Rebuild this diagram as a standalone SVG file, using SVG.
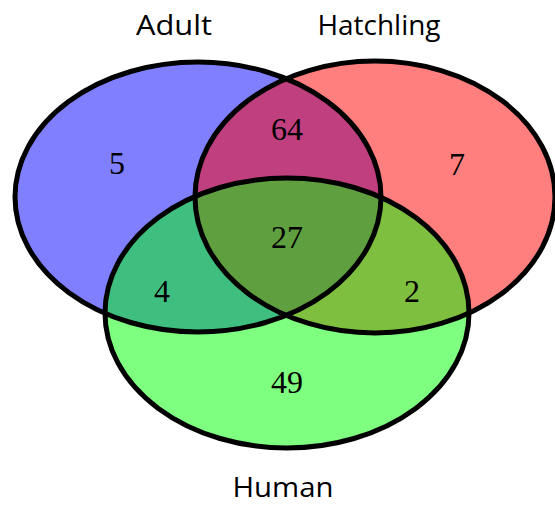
<svg xmlns="http://www.w3.org/2000/svg" width="555" height="506" viewBox="0 0 555 506">
  <style>
    .fill { stroke: none; fill-opacity: 0.5; }
    .edge { fill: none; stroke: #000; stroke-width: 5; }
    .count { font-family: "Liberation Serif", "Times New Roman", serif; font-size: 32px; text-anchor: middle; fill: #000; }
    .label { font-family: "Open Sans", "Noto Sans", sans-serif; font-size: 28px; text-anchor: middle; fill: #000; }
  </style>
  <rect width="555" height="506" fill="#fff"/>

  <!-- semi-transparent set fills, blended by overlap -->
  <g id="adult">
    <ellipse class="fill" cx="198" cy="197" rx="183" ry="135" fill="#0000ff"/>
  </g>
  <g id="hatchling">
    <ellipse class="fill" cx="375" cy="197" rx="180" ry="136" fill="#ff0000"/>
  </g>
  <g id="human">
    <ellipse class="fill" cx="287" cy="313" rx="182" ry="135" fill="#00ff00"/>
  </g>

  <!-- outlines drawn over all fills -->
  <g id="outlines">
    <ellipse class="edge" cx="198" cy="197" rx="183" ry="135"/>
    <ellipse class="edge" cx="375" cy="197" rx="180" ry="136"/>
    <ellipse class="edge" cx="287" cy="313" rx="182" ry="135"/>
  </g>

  <!-- region counts -->
  <g id="counts">
    <text class="count" x="117" y="174">5</text>
    <text class="count" x="287" y="140">64</text>
    <text class="count" x="457" y="175">7</text>
    <text class="count" x="287" y="248">27</text>
    <text class="count" x="162" y="302">4</text>
    <text class="count" x="412" y="302">2</text>
    <text class="count" x="287" y="393">49</text>
  </g>

  <!-- set names -->
  <g id="labels">
    <text class="label" x="174" y="35" textLength="76" lengthAdjust="spacingAndGlyphs">Adult</text>
    <text class="label" x="379" y="35" textLength="123" lengthAdjust="spacingAndGlyphs">Hatchling</text>
    <text class="label" x="283" y="497" textLength="101" lengthAdjust="spacingAndGlyphs">Human</text>
  </g>
</svg>
